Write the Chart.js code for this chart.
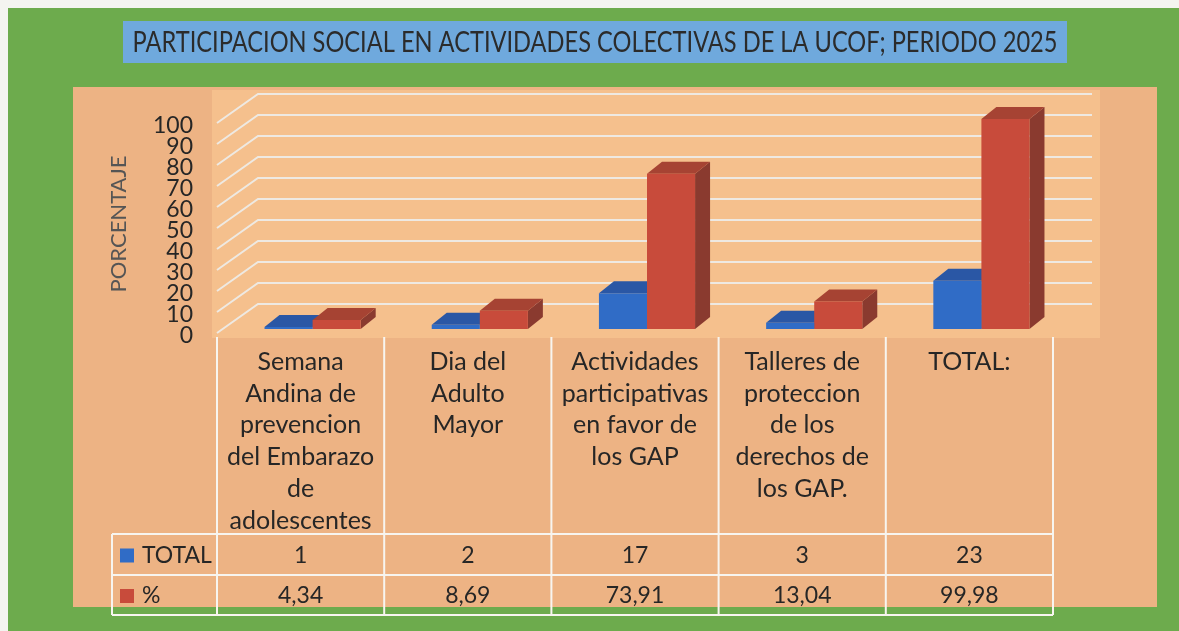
<!DOCTYPE html>
<html>
<head>
<meta charset="utf-8">
<script src="https://cdn.jsdelivr.net/npm/chart.js"></script>
<style>
  html, body { margin: 0; padding: 0; background: #f4f4f0; }
  #wrap { width: 1179px; height: 631px; position: relative; }
</style>
</head>
<body>
<div id="wrap"><canvas id="myChart"></canvas></div>
<script>
let titleText = 'PARTICIPACION SOCIAL EN ACTIVIDADES COLECTIVAS DE LA UCOF; PERIODO 2025';
let categories = [
    ['Semana', 'Andina de', 'prevencion', 'del Embarazo', 'de', 'adolescentes'],
    ['Dia del', 'Adulto', 'Mayor'],
    ['Actividades', 'participativas', 'en favor de', 'los GAP'],
    ['Talleres de', 'proteccion', 'de los', 'derechos de', 'los GAP.'],
    ['TOTAL:']
];
let totals = [1, 2, 17, 3, 23];
let percents = [4.34, 8.69, 73.91, 13.04, 99.98];
let seriesNames = ['TOTAL', '%'];

let colors = {
    green: '#6dab4d',
    panel: '#edb384',
    inner: '#f5c08d',
    titleBox: '#6fa9dd',
    grid: '#eee9e2',
    text: '#262626',
    blue: ['#306cc6', '#2a57a5', '#24478a'],   // front, top, side
    red: ['#c84b3b', '#a64333', '#8a3a2f']
};

// depth of the 3d boxes and shift of the bar groups inside each column
let depthX = 15, depthY = -12, barShift = 12;

function fmt(v) {
    return v.toFixed(2).replace('.', ',');
}

let background = {
    id: 'background',
    beforeDraw(chart) {
        let ctx = chart.ctx;
        let area = chart.chartArea;
        ctx.save();
        ctx.fillStyle = '#f4f4f0';
        ctx.fillRect(0, 0, chart.width, chart.height);
        ctx.fillStyle = colors.green;
        ctx.fillRect(8, 8, chart.width - 8, chart.height - 8);
        ctx.fillStyle = colors.panel;
        ctx.fillRect(73, 87, 1084, 520);
        ctx.fillStyle = colors.inner;
        ctx.fillRect(area.left - 5, 90, 888, area.bottom + 9 - 90);

        // title box
        ctx.fillStyle = colors.titleBox;
        ctx.fillRect(123, 21, 944, 42);
        ctx.fillStyle = '#2b2b2b';
        ctx.font = '28px Lato';
        ctx.textAlign = 'center';
        ctx.textBaseline = 'middle';
        let w = ctx.measureText(titleText).width;
        ctx.translate(595, 43);
        ctx.scale(925 / w, 1);
        ctx.fillText(titleText, 0, 0);
        ctx.restore();
    },
    beforeDatasetsDraw(chart) {
        let ctx = chart.ctx;
        let area = chart.chartArea;
        let y = chart.scales.y;
        ctx.save();
        // back wall and side wall grid
        ctx.strokeStyle = colors.grid;
        ctx.lineWidth = 2;
        y.ticks.forEach(t => {
            let py = y.getPixelForValue(t.value);
            ctx.beginPath();
            ctx.moveTo(area.left, py + 4);
            ctx.lineTo(area.left + 41, py - 25);
            ctx.lineTo(area.right + 39, py - 25);
            ctx.stroke();
        });
        ctx.restore();

        ctx.save();
        ctx.translate(barShift, 0);
        // tops and sides of the boxes, fronts come from the bar elements
        chart.data.datasets.forEach((ds, di) => {
            let shades = di === 0 ? colors.blue : colors.red;
            chart.getDatasetMeta(di).data.forEach(bar => {
                let p = bar.getProps(['x', 'y', 'base', 'width'], true);
                let x1 = p.x - p.width / 2, x2 = p.x + p.width / 2;
                ctx.fillStyle = shades[2];
                ctx.beginPath();
                ctx.moveTo(x2, p.y);
                ctx.lineTo(x2 + depthX, p.y + depthY);
                ctx.lineTo(x2 + depthX, p.base + depthY);
                ctx.lineTo(x2, p.base);
                ctx.closePath();
                ctx.fill();
                ctx.fillStyle = shades[1];
                ctx.beginPath();
                ctx.moveTo(x1, p.y);
                ctx.lineTo(x2, p.y);
                ctx.lineTo(x2 + depthX, p.y + depthY);
                ctx.lineTo(x1 + depthX, p.y + depthY);
                ctx.closePath();
                ctx.fill();
            });
        });
    },
    afterDatasetsDraw(chart) {
        chart.ctx.restore();
    },
    afterDraw(chart) {
        let ctx = chart.ctx;
        let area = chart.chartArea;
        let x = chart.scales.x;
        let rows = [534, 575, 615];
        let left = 112;
        ctx.save();
        ctx.strokeStyle = '#f7f5f0';
        ctx.lineWidth = 2;
        ctx.beginPath();
        rows.forEach(r => {
            ctx.moveTo(left, r);
            ctx.lineTo(area.right, r);
        });
        ctx.moveTo(left, rows[0]);
        ctx.lineTo(left, rows[2]);
        for (let i = 0; i <= categories.length; i++) {
            let cx = area.left + i * (area.right - area.left) / categories.length;
            ctx.moveTo(cx, area.bottom + 8);
            ctx.lineTo(cx, rows[2]);
        }
        ctx.stroke();

        // row headers with legend keys
        ctx.font = '23px Lato';
        ctx.textBaseline = 'middle';
        ctx.fillStyle = colors.text;
        let rowData = [totals.map(String), percents.map(fmt)];
        let keys = [colors.blue[0], colors.red[0]];
        rowData.forEach((vals, ri) => {
            let cy = (rows[ri] + rows[ri + 1]) / 2 + 1;
            ctx.fillStyle = keys[ri];
            ctx.fillRect(120, cy - 7, 14, 14);
            ctx.fillStyle = colors.text;
            ctx.textAlign = 'left';
            ctx.fillText(seriesNames[ri], 142, cy);
            ctx.textAlign = 'center';
            vals.forEach((v, i) => {
                ctx.fillText(v, x.getPixelForValue(i), cy);
            });
        });
        ctx.restore();
    }
};

let myChart = document.getElementById('myChart').getContext('2d');

let chart = new Chart(myChart, {
    type: 'bar',
    data: {
        labels: categories,
        datasets: [{
            label: seriesNames[0],
            data: totals,
            backgroundColor: colors.blue[0]
        }, {
            label: seriesNames[1],
            data: percents,
            backgroundColor: colors.red[0]
        }]
    },
    options: {
        responsive: true,
        maintainAspectRatio: false,
        animation: false,
        layout: {
            padding: { left: 106, top: 119, right: 126, bottom: 0 }
        },
        datasets: {
            bar: { categoryPercentage: 0.575, barPercentage: 1.0 }
        },
        plugins: {
            legend: { display: false },
            tooltip: { enabled: false }
        },
        scales: {
            x: {
                grid: { display: false, drawTicks: false },
                border: { display: false },
                afterFit(scale) { scale.height = 302; },
                ticks: {
                    autoSkip: false,
                    maxRotation: 0,
                    minRotation: 0,
                    padding: 17,
                    color: colors.text,
                    font: { family: 'Lato', size: 25, lineHeight: 1.27 }
                }
            },
            y: {
                min: 0,
                max: 100,
                grid: { display: false, drawTicks: false },
                border: { display: false },
                afterFit(scale) { scale.width = 111; },
                ticks: {
                    stepSize: 10,
                    autoSkip: false,
                    padding: 24,
                    labelOffset: 7,
                    color: colors.text,
                    font: { family: 'Lato', size: 23 }
                },
                title: {
                    display: true,
                    text: 'PORCENTAJE',
                    padding: 0,
                    color: '#555555',
                    font: { family: 'Lato', size: 22 }
                }
            }
        }
    },
    plugins: [background]
});
</script>
</body>
</html>
